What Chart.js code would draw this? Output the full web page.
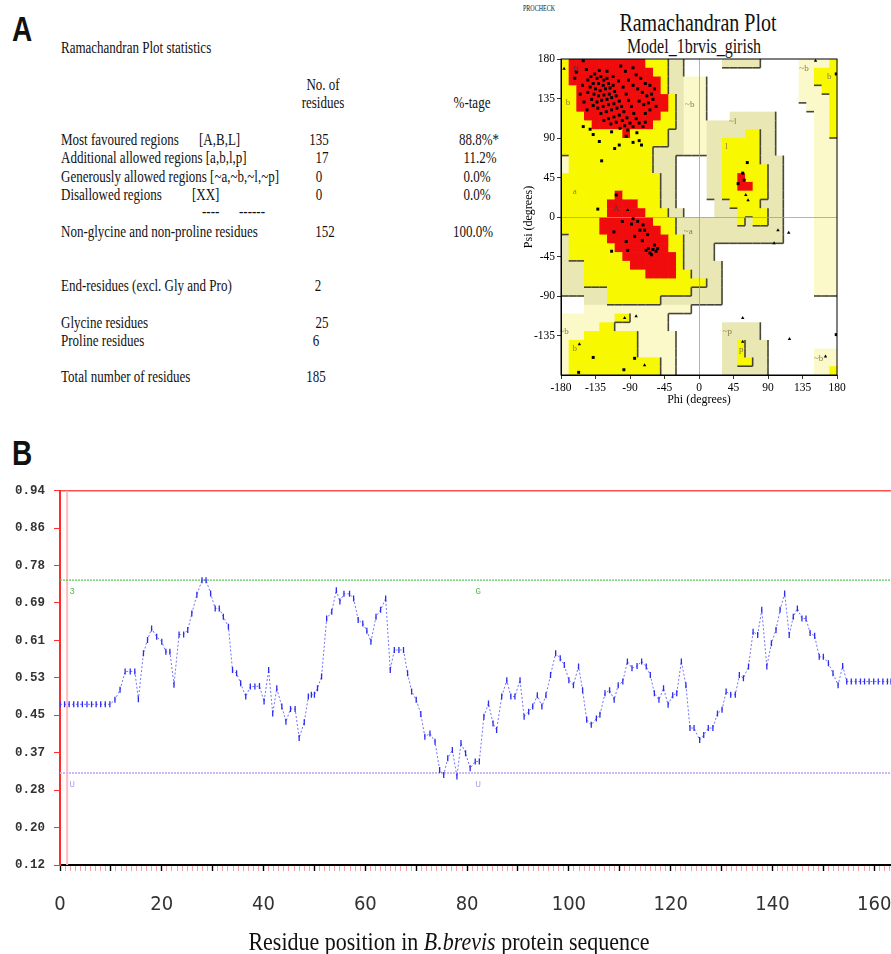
<!DOCTYPE html>
<html>
<head>
<meta charset="utf-8">
<script src="https://cdn.jsdelivr.net/npm/chart.js@4.4.0/dist/chart.umd.min.js"></script>
<style>
  body { margin: 0; background: #fff; }
  #page { position: relative; width: 891px; height: 954px; overflow: hidden; font-family: 'Liberation Serif', 'Times New Roman', serif; color: #111; }
  canvas { position: absolute; }
  .l, .m { position: absolute; white-space: nowrap; font-size: 13px; line-height: 14px; }
  .l { transform: translate(0, -50%) scaleY(1.25); transform-origin: left center; }
  .m { transform: translate(-50%, -50%) scaleY(1.25); transform-origin: center center; }
  .panel { font-family: 'Liberation Sans', Arial, sans-serif; font-weight: bold; font-size: 28px; }
</style>
</head>
<body>
<div id="page">
  <div class="m panel" style="left:22px;top:30px;">A</div>
  <div class="m panel" style="left:22px;top:454px;">B</div>

  <!-- statistics table -->
  <div class="l" style="left:61px;top:48px;">Ramachandran Plot statistics</div>
  <div class="m" style="left:323px;top:85px;">No. of</div>
  <div class="m" style="left:323px;top:103px;">residues</div>
  <div class="m" style="left:472px;top:103px;">%-tage</div>

  <div class="l" style="left:61px;top:140px;">Most favoured regions</div>
  <div class="l" style="left:199px;top:140px;">[A,B,L]</div>
  <div class="m" style="left:319px;top:140px;">135</div>
  <div class="m" style="left:479px;top:140px;">88.8%*</div>

  <div class="l" style="left:61px;top:158px;">Additional allowed regions [a,b,l,p]</div>
  <div class="m" style="left:322px;top:158px;">17</div>
  <div class="m" style="left:480px;top:158px;">11.2%</div>

  <div class="l" style="left:61px;top:177px;">Generously allowed regions [~a,~b,~l,~p]</div>
  <div class="m" style="left:319px;top:177px;">0</div>
  <div class="m" style="left:477px;top:177px;">0.0%</div>

  <div class="l" style="left:61px;top:195px;">Disallowed regions</div>
  <div class="l" style="left:192px;top:195px;">[XX]</div>
  <div class="m" style="left:319px;top:195px;">0</div>
  <div class="m" style="left:477px;top:195px;">0.0%</div>

  <div class="l" style="left:202px;top:212px;">----</div>
  <div class="l" style="left:239px;top:212px;">------</div>

  <div class="l" style="left:61px;top:232px;">Non-glycine and non-proline residues</div>
  <div class="m" style="left:325px;top:232px;">152</div>
  <div class="m" style="left:473px;top:232px;">100.0%</div>

  <div class="l" style="left:61px;top:286px;">End-residues (excl. Gly and Pro)</div>
  <div class="m" style="left:318px;top:286px;">2</div>
  <div class="l" style="left:61px;top:323px;">Glycine residues</div>
  <div class="m" style="left:322px;top:323px;">25</div>
  <div class="l" style="left:61px;top:341px;">Proline residues</div>
  <div class="m" style="left:316px;top:341px;">6</div>
  <div class="l" style="left:61px;top:377px;">Total number of residues</div>
  <div class="m" style="left:316px;top:377px;">185</div>

  <!-- Ramachandran plot -->
  <div class="l" style="left:523px;top:8px;font-size:6px;">PROCHECK</div>
  <div class="m" style="left:698px;top:22px;font-size:20px;line-height:22px;">Ramachandran Plot</div>
  <div class="m" style="left:694px;top:47px;font-size:16px;line-height:18px;">Model_1brvis_girish</div>
  <canvas id="rama" width="371" height="410" style="left:520px;top:0px;"></canvas>

  <!-- profile -->
  <canvas id="profile" width="891" height="484" style="left:0px;top:470px;"></canvas>
  <div class="m" style="left:449px;top:942px;font-size:22px;line-height:24px;transform:translate(-50%,-50%) scaleY(1.15);">Residue position in <i>B.brevis</i> protein sequence</div>
</div>

<script>
// ---------- Ramachandran plot data ----------
const phiTicks = [-180, -135, -90, -45, 0, 45, 90, 135, 180];
const psiTicks = [-135, -90, -45, 0, 45, 90, 135, 180];

// 10 degree cells, top row psi 170..180, first column phi -180..-170
// R most favoured, Y additional allowed, K / C generously allowed, . disallowed
const regionRows = [
  'YRRRRRRRRRRYYYKK.....KKKKK.....CCCCY',
  'YRRRRRRRRRRRYYKK...............CCYYY',
  'YRRRRRRRRRRRRYKKCCC............CCYYY',
  'YYRRRRRRRRRRRYKKCCC............CCCYY',
  'YYRRRRRRRRRRRRYKCCC............CCCCY',
  'YYRRRRRRRRRRRRYKCCC.............CCCY',
  'YYYRRRRRRRRRRYYKCCC...KKKKKK.....CCY',
  'YYYYRRRRRRRRYYYKCCCKKKKKKKKK.....CCY',
  'YYYYYYYYRYYYYYKKCCCKKKKKYYKK.....CCY',
  'YYYYYYYYYYYYYYKKCCCKKYYYYYKK.....CCC',
  'YYYYYYYYYYYYKKKKCCCKKYYYYYKK.....CCC',
  'CYYYYYYYYYYYKKK....KKYYYYYKKK....CCC',
  'CYYYYYYYYYYYKKK....KKYYYYYYKK....CCC',
  'YYYYYYYYYYYYYKK....KKYYRYYYKK....CCC',
  'YYYYYYYYYYYYYKK....KKYYRRYYKK....CCC',
  'YYYYYYYRYYYYYKK....KKYYYYYYKK....CCC',
  'YYYYYYRRRRYYYKK.....KKYYYYKKK....CCC',
  'YYYYYYRRRRRYYYKK....KKKYYYYKK....CCC',
  'YYYYYRRRRRRRYYYKKKKKKKKYKYYKK....CCC',
  'YYYYYRRRRRRRRYYKKKKKKKKKKKKKK....CCC',
  'KYYYYYRRRRRRRRYYKKKKKKKKKKKKK....CCC',
  'KYYYYYYRRRRRRRYYKKKK.............CCC',
  'KYYYYYYYRRRRRRRYKKKK.............CCC',
  'KKKYYYYYYRRRRRRYKKKKK............CCC',
  'KKKYYYYYYYYRRRRYYKKKK............CCC',
  'KKKYYYYYYYYYYYYYYYYKK............CCC',
  'KKKKKKYYYYYYYYYYYKKKK............CCC',
  '...KKKYYYYYYYKKKKKKKK...............',
  '...CCCCCCCCCCCCCC...................',
  'CCCCCCCYYCCCCC......................',
  'CCCCCYYCCCCCCC.......KKKKK..........',
  'CCCYYYYYYYCCCCC......KKKKK..........',
  'CYYYYYYYYYCCCCC......KKYKKK.........',
  'CYYYYYYYYYCCCCC......KKYKKK......CCC',
  'CYYYYYYYYYYYYCC......KKYYKK......CCC',
  'CYYYYYYYYYYYYCC......KKKKKK......CCY'
];
const regionColours = { R: '#f00c0c', Y: '#f8f800', K: '#e9e7b3', C: '#fbf9c9' };
const regionLevel = { '.': 0, C: 1, K: 1, Y: 2, R: 3 };

const regionTags = ['B', 'b', '~b', 'a', 'A', '~a', '~b', 'b', '~l', 'l', '~b', 'b', '~p', 'p', '~b'];
const tagPhi = [-160, -171, -12, -162, -108, -14, -176, -162, 44, 36, 137, 170, 37, 55, 156];
const tagPsi = [168, 130, 128, 29, 10, -17, -131, -150, 109, 80, 169, 160, -131, -151, -161];

// residues (phi, psi)
const nonGlyPoints = [
  [-151,178],[-147,168],[-130,167],[-160,165],[-162,158],[-141,160],[-136,163],[-133,158],[-128,160],[-124,156],
  [-120,158],[-118,152],[-125,150],[-131,152],[-138,152],[-142,148],[-135,146],[-129,144],[-122,146],[-116,147],
  [-112,150],[-110,143],[-117,140],[-124,139],[-131,138],[-137,140],[-145,142],[-140,134],[-133,131],[-127,133],
  [-120,134],[-114,136],[-108,138],[-104,132],[-111,129],[-118,128],[-125,126],[-132,124],[-138,127],[-128,118],
  [-121,120],[-114,122],[-107,124],[-101,126],[-98,120],[-104,116],[-111,114],[-118,112],[-124,110],[-115,106],
  [-108,108],[-100,110],[-94,113],[-97,104],[-90,107],[-103,101],[-93,99],[-86,103],[-146,122],[-150,131],
  [-155,140],[-152,150],[-145,156],[-120,166],[-112,160],[-105,155],[-99,148],[-95,140],[-92,133],[-88,126],
  [-85,118],[-82,112],[-78,107],[-73,103],[-70,108],[-82,162],[-76,158],[-70,152],[-64,150],[-58,146],
  [-62,140],[-68,138],[-74,142],[-80,146],[-86,150],[-78,132],[-72,128],[-66,130],[-60,134],[-56,126],
  [-64,122],[-70,118],[-86,170],[-96,166],[-102,172],[-92,156],
  [-151,103],[-138,94],[-130,86],[-127,64],[-114,97],[-110,78],[-104,82],[-86,85],[-78,87],[-75,82],
  [-142,100],[-95,92],[-81,96],
  [-108,25],[-132,9],[-86,-2],[-80,-5],[-73,-9],[-77,-15],[-84,-22],[-95,-28],[-111,-17],[-114,-39],
  [-93,-38],[-69,-38],[-64,-41],[-58,-32],[-60,-37],[-62,-43],[-56,-39],[-54,-36],[-66,-36],[-71,-15],
  [-67,-20],[-74,-27],[-88,-8],[-100,-5],
  [63,62],[57,50],[59,42],[51,38],
  [-138,-160],[-157,-177],[-98,-174],[-84,-161],[179,-134],[179,163]
];
const glyPoints = [
  [-176,169],[-93,8],[61,25],[64,19],[103,-15],[117,-18],[98,-30],
  [57,-115],[118,-139],[57,-142],[165,-159],[152,178],
  [-156,-145],[-71,-169],[-97,-115],[-82,-113]
];

// ---------- profile data ----------
const residuePos = [
  0, 0.9, 1.8, 2.7, 3.5, 4.4, 5.3, 6.2, 7.1, 8.0, 8.9, 9.8,
  10.8, 11.8, 12.8, 13.8, 14.7, 15.4, 16.4, 17.2, 18.0, 19.0, 20.0, 20.8, 21.6, 22.4, 23.4, 24.3, 25.1, 25.9,
  26.9, 27.9, 28.7, 29.6, 30.5, 31.3, 32.1, 33.1, 33.9, 34.7, 35.5, 36.5, 37.4, 38.3, 39.2, 40.1, 41.0, 41.8,
  42.6, 43.6, 44.4, 45.3, 46.2, 47.0,
  48.0, 48.8, 49.4, 50.0, 50.6, 51.4, 52.4, 53.4, 54.3, 55.0, 55.8, 56.9, 57.7, 58.6, 59.5, 60.3, 61.1, 62.1,
  63.0, 64.0, 64.9, 65.7, 66.6, 67.5, 68.3, 69.1, 70.0, 70.9, 71.7, 72.7, 73.7, 74.6, 75.4, 76.2, 77.1, 78.0,
  78.8, 79.7, 80.6, 81.6, 82.4, 83.3, 84.2, 85.1, 85.8,
  86.8, 87.8, 88.6, 89.4, 90.4, 91.2, 92.1, 92.9, 93.8, 94.7, 95.5, 96.4, 97.4, 98.3, 99.1, 100.0, 100.9, 101.9,
  102.7, 103.5, 104.4, 105.4, 106.1, 107.1, 108.0, 108.9, 109.7, 110.6, 111.5, 112.4, 113.4, 114.3, 115.2, 116.0,
  116.8, 117.7, 118.6, 119.5, 120.4, 121.2, 122.1, 123.0, 123.8, 124.6,
  125.7, 126.5, 127.4, 128.3, 129.2, 130.1, 130.9, 131.8, 132.7, 133.5, 134.3, 135.3, 136.2, 137.1, 137.9, 138.9,
  139.8, 140.7, 141.5, 142.4, 143.3, 144.1, 144.9, 145.8, 146.6, 147.4, 148.3, 149.2, 150.0, 151.0, 151.9, 152.9,
  153.8, 154.6,
  155.5, 156.4, 157.3, 158.1, 159.0, 159.9, 160.8, 161.7, 162.6, 163.3
];
const profileScore = [
  .472, .472, .472, .472, .472, .472, .472, .472, .472, .472, .472, .472,
  .482, .504, .544, .544, .544, .483, .584, .613, .638, .620, .609, .587, .587, .515, .625, .625, .635, .671,
  .712, .744, .744, .715, .682, .682, .664, .642, .547, .540, .518, .489, .511, .511, .512, .478, .547, .452,
  .507, .467, .434, .462, .462, .398,
  .433, .489, .493, .493, .507, .533, .660, .675, .722, .697, .714, .714, .704, .657, .649, .633, .609, .664,
  .679, .704, .547, .591, .591, .591, .540, .500, .482, .451, .401, .408, .390, .328, .317, .354, .372, .314,
  .387, .365, .332, .347, .347, .445, .474, .430, .416,
  .489, .525, .489, .489, .525, .445, .456, .467, .492, .467, .492, .536, .584, .573, .558, .525, .514, .555,
  .503, .438, .427, .441, .449, .496, .503, .482, .514, .522, .566, .551, .556, .566, .555, .536,
  .496, .482, .507, .471, .492, .496, .566, .514, .420, .420,
  .394, .405, .420, .420, .452, .460, .500, .493, .493, .536, .529, .555, .631, .624, .679, .555,
  .606, .635, .679, .715, .624, .664, .682, .660, .660, .628, .622, .576, .576, .562, .540, .514,
  .556, .522,
  .522, .522, .522, .522, .522, .522, .522, .522, .522, .522
];
const yTickVals = [0.12, 0.202, 0.284, 0.366, 0.448, 0.53, 0.612, 0.694, 0.776, 0.858, 0.94];
const yTickLabels = ['0.12', '0.20', '0.28', '0.37', '0.45', '0.53', '0.61', '0.69', '0.78', '0.86', '0.94'];
const xMax = 163.3;
const upperCut = 0.744;
const lowerCut = 0.3215;
const markerPos = 1.4;
const cutTags = ['3', 'G', 'U', 'U'];
const cutTagX = [2.4, 82.2, 2.4, 82.2];
const cutTagY = [0.718, 0.718, 0.297, 0.297];

Chart.defaults.font.family = "'Liberation Serif', 'Times New Roman', serif";
Chart.defaults.color = '#000';

// ---------- Ramachandran chart ----------
const regionPlugin = {
  id: 'regions',
  beforeDraw(chart) {
    const { ctx, scales: { x, y } } = chart;
    ctx.save();
    regionRows.forEach((row, r) => {
      for (let c = 0; c < row.length; c++) {
        const col = regionColours[row[c]];
        if (!col) continue;
        const x0 = x.getPixelForValue(-180 + c * 10), x1 = x.getPixelForValue(-170 + c * 10);
        const y0 = y.getPixelForValue(180 - r * 10), y1 = y.getPixelForValue(170 - r * 10);
        ctx.fillStyle = col;
        ctx.fillRect(x0, y0, x1 - x0 + 0.6, y1 - y0 + 0.6);
      }
    });
    // dark shadow edges
    ctx.strokeStyle = '#45453a';
    ctx.lineWidth = 1.6;
    regionRows.forEach((row, r) => {
      for (let c = 0; c < row.length; c++) {
        const lv = regionLevel[row[c]];
        if (lv < 1 || lv > 2) continue;
        const x0 = x.getPixelForValue(-180 + c * 10), x1 = x.getPixelForValue(-170 + c * 10);
        const y0 = y.getPixelForValue(180 - r * 10), y1 = y.getPixelForValue(170 - r * 10);
        if (c + 1 < row.length && regionLevel[row[c + 1]] < lv) {
          ctx.beginPath(); ctx.moveTo(x1, y0); ctx.lineTo(x1, y1); ctx.stroke();
        }
        if (r + 1 < regionRows.length && regionLevel[regionRows[r + 1][c]] < lv) {
          ctx.beginPath(); ctx.moveTo(x0, y1); ctx.lineTo(x1, y1); ctx.stroke();
        }
      }
    });
    ctx.font = "9px 'Liberation Serif', serif";
    ctx.textAlign = 'center';
    ctx.textBaseline = 'middle';
    regionTags.forEach((t, i) => {
      ctx.fillStyle = (t === 'A' || t === 'B') ? '#6a2a2a' : '#8c7c52';
      ctx.fillText(t, x.getPixelForValue(tagPhi[i]), y.getPixelForValue(tagPsi[i]));
    });
    ctx.restore();
  },
  afterDraw(chart) {
    const { ctx, chartArea: a } = chart;
    ctx.save();
    ctx.strokeStyle = '#000';
    ctx.lineWidth = 1;
    ctx.strokeRect(a.left, a.top, a.right - a.left, a.bottom - a.top);
    ctx.restore();
  }
};

const zeroGrid = ctx => (ctx.tick && ctx.tick.value === 0) ? '#a0a0a0' : 'rgba(0,0,0,0)';

new Chart(document.getElementById('rama'), {
  type: 'scatter',
  data: {
    datasets: [
      { label: 'Residues', data: nonGlyPoints.map(p => ({ x: p[0], y: p[1] })),
        pointStyle: 'rect', pointRadius: 2.1, backgroundColor: '#000', borderWidth: 0 },
      { label: 'Glycine', data: glyPoints.map(p => ({ x: p[0], y: p[1] })),
        pointStyle: 'triangle', pointRadius: 2, backgroundColor: '#000', borderWidth: 0 }
    ]
  },
  options: {
    responsive: false,
    animation: false,
    events: [],
    layout: { autoPadding: false, padding: { top: 59, right: 54, left: 0, bottom: 0 } },
    plugins: { legend: { display: false }, tooltip: { enabled: false } },
    scales: {
      x: {
        type: 'linear', min: -180, max: 180,
        afterBuildTicks: s => { s.ticks = phiTicks.map(v => ({ value: v })); },
        afterFit: s => { s.height = 35; },
        ticks: { font: { size: 11.5 }, color: '#000', padding: 2, maxRotation: 0 },
        grid: { color: zeroGrid, lineWidth: 0.8, tickColor: '#000', tickLength: 4 },
        border: { color: '#000' },
        title: { display: true, text: 'Phi (degrees)', font: { size: 12 }, color: '#000', padding: { top: 0, bottom: 3 } }
      },
      y: {
        type: 'linear', min: -180, max: 180,
        afterBuildTicks: s => { s.ticks = psiTicks.map(v => ({ value: v })); },
        afterFit: s => { s.width = 41; },
        ticks: { font: { size: 11.5 }, color: '#000', padding: 2 },
        grid: { color: zeroGrid, lineWidth: 0.8, tickColor: '#000', tickLength: 4 },
        border: { color: '#000' },
        title: { display: true, text: 'Psi (degrees)', font: { size: 12 }, color: '#000', padding: { top: 2, bottom: 0 } }
      }
    }
  },
  plugins: [regionPlugin]
});

// ---------- profile chart ----------
const n = Math.min(residuePos.length, profileScore.length);
const profilePoints = [];
for (let i = 0; i < n; i++) profilePoints.push({ x: residuePos[i], y: profileScore[i] });

const xTickVals = [];
for (let v = 0; v <= Math.floor(xMax); v++) xTickVals.push(v);

const cutTagPlugin = {
  id: 'cutTags',
  afterDatasetsDraw(chart) {
    const { ctx, scales: { x, y } } = chart;
    ctx.save();
    ctx.font = "9px 'Liberation Mono', monospace";
    ctx.textAlign = 'center';
    ctx.textBaseline = 'middle';
    cutTags.forEach((t, i) => {
      ctx.fillStyle = cutTagY[i] > 0.5 ? '#55bb55' : '#b49cec';
      ctx.fillText(t, x.getPixelForValue(cutTagX[i]), y.getPixelForValue(cutTagY[i]));
    });
    ctx.restore();
  }
};

new Chart(document.getElementById('profile'), {
  type: 'scatter',
  data: {
    datasets: [
      { label: 'profile', data: profilePoints, showLine: true,
        borderColor: 'rgba(80,80,250,0.8)', borderWidth: 1, borderDash: [2, 2],
        pointStyle: 'line', rotation: 90, pointRadius: 3,
        pointBorderColor: '#2b2bf0', pointBorderWidth: 1.3, backgroundColor: '#2b2bf0' },
      { label: 'upper', data: [{ x: 0, y: upperCut }, { x: xMax, y: upperCut }], showLine: true,
        borderColor: '#5cc45c', borderWidth: 1.3, borderDash: [2, 1], pointRadius: 0 },
      { label: 'lower', data: [{ x: 0, y: lowerCut }, { x: xMax, y: lowerCut }], showLine: true,
        borderColor: '#cdb8f4', borderWidth: 2, borderDash: [2, 1], pointRadius: 0 },
      { label: 'marker', data: [{ x: markerPos, y: 0.12 }, { x: markerPos, y: 0.94 }], showLine: true,
        borderColor: '#ffbcbc', borderWidth: 2, pointRadius: 0 }
    ]
  },
  options: {
    responsive: false,
    animation: false,
    events: [],
    layout: { autoPadding: false, padding: { top: 20.7, right: 0, left: 0, bottom: 0 } },
    plugins: { legend: { display: false }, tooltip: { enabled: false } },
    scales: {
      x: {
        type: 'linear', min: 0, max: xMax, position: 'bottom',
        afterBuildTicks: s => { s.ticks = xTickVals.map(v => ({ value: v })); },
        afterFit: s => { s.height = 89; s.paddingLeft = 0; s.paddingRight = 0; },
        ticks: {
          autoSkip: false, maxRotation: 0, padding: 22,
          callback: v => (v % 20 === 0 ? String(v) : ''),
          font: { family: "'Liberation Sans Narrow', 'DejaVu Sans Condensed', sans-serif", size: 20 },
          color: '#333'
        },
        grid: {
          drawOnChartArea: false, tickLength: 6,
          tickColor: c => (c.tick && c.tick.value % 10 === 0) ? '#000' : '#f3a3a3',
          tickWidth: c => (c.tick && c.tick.value % 10 === 0) ? 1.4 : 1
        },
        border: { color: '#000', width: 2 }
      },
      xTop: {
        type: 'linear', min: 0, max: xMax, position: 'top',
        afterFit: s => { s.height = 0; s.paddingLeft = 0; s.paddingRight = 0; },
        ticks: { display: false },
        grid: { display: false },
        border: { color: '#ff5050', width: 1.5 }
      },
      y: {
        type: 'linear', min: 0.12, max: 0.94,
        afterBuildTicks: s => { s.ticks = yTickVals.map(v => ({ value: v })); },
        afterFit: s => { s.width = 60; },
        ticks: {
          callback: (v, i) => yTickLabels[i],
          font: { family: "'Liberation Mono', 'DejaVu Sans Mono', monospace", size: 12.5, weight: 'bold' },
          color: '#333', padding: 9
        },
        grid: { drawOnChartArea: false, tickLength: 6, tickColor: '#ff3030' },
        border: { color: '#ff2a2a', width: 2 }
      }
    }
  },
  plugins: [cutTagPlugin]
});
</script>
</body>
</html>
